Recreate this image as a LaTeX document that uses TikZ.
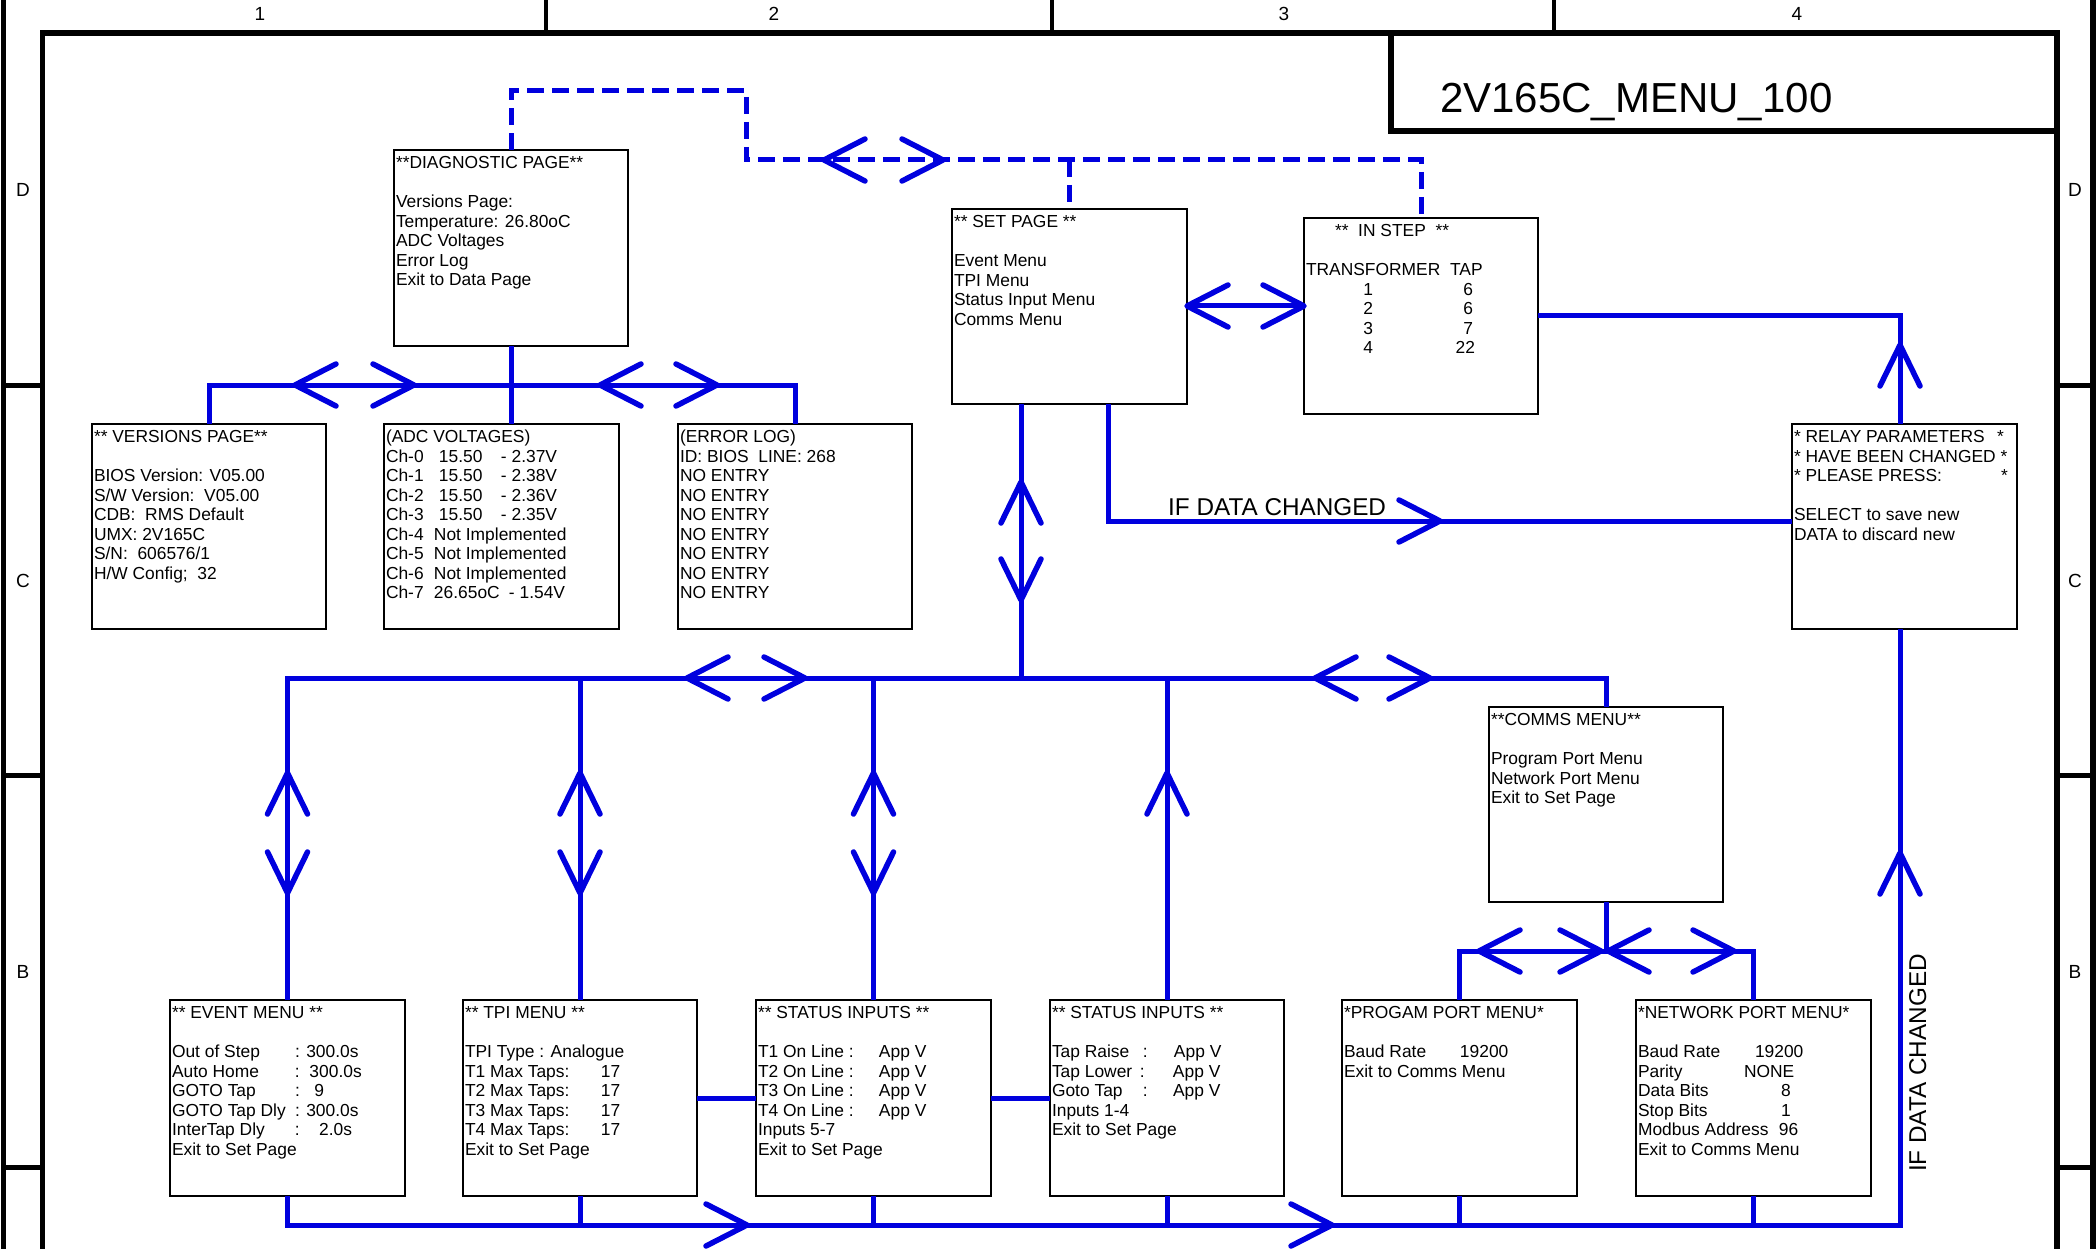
\documentclass[tikz,border=0pt]{standalone}
\usepackage{fontspec}
\setmainfont{Liberation Sans}
\definecolor{wireblue}{RGB}{0,0,222}
\tikzset{
  box/.style={draw=black, line width=2.2, fill=white, anchor=north west, inner sep=0, outer sep=0},
  txt/.style={anchor=north west, inner sep=0, outer sep=0, align=left, font=\fontsize{17.4}{19.5}\selectfont},
  wire/.style={draw=wireblue, line width=5},
  dwire/.style={draw=wireblue, line width=5, dash pattern=on 17pt off 8pt},
  frameline/.style={draw=black, line width=5.5},
  lbl/.style={anchor=base, inner sep=0, font=\fontsize{19}{22}\selectfont},
  chev/.style={draw=wireblue, line width=5.5, line cap=round, line join=round},
  chevL/.pic={\draw[chev] (41,-21) -- (0,0) -- (41,21);},
  chevR/.pic={\draw[chev] (-41,-21) -- (0,0) -- (-41,21);},
  chevU/.pic={\draw[chev] (-20,41) -- (0,0) -- (20,41);},
  chevD/.pic={\draw[chev] (-20,-41) -- (0,0) -- (20,-41);},
}
\begin{document}
\begin{tikzpicture}[x=1pt,y=-1pt]
\useasboundingbox (0,0) rectangle (2096,1249);
\clip (0,0) rectangle (2096,1249);
% frame
\draw[frameline] (3.5,0) -- (3.5,1260);
\draw[frameline] (2093,0) -- (2093,1260);
\draw[frameline] (42.5,1260) -- (42.5,33) -- (2057,33) -- (2057,1260);
\foreach \cx in {546,1052,1554} \draw[line width=4.5] (\cx,0) -- (\cx,33);
\foreach \ry in {385,775,1167} {
  \draw[line width=5] (3.5,\ry) -- (42.5,\ry);
  \draw[line width=5] (2057,\ry) -- (2093,\ry);
}
\node[lbl] (c1) at (260,20.5) {1};
\node[lbl] (c2) at (774,20.5) {2};
\node[lbl] (c3) at (1284,20.5) {3};
\node[lbl] (c4) at (1797,20.5) {4};
\node[lbl] (rD) at (23,197) {D};
\node[lbl] (rC) at (23,587) {C};
\node[lbl] (rB) at (23,978) {B};
\node[lbl] (rD2) at (2075,197) {D};
\node[lbl] (rC2) at (2075,587) {C};
\node[lbl] (rB2) at (2075,978) {B};
\draw[frameline] (1391,33) -- (1391,131) -- (2057,131);
\node[anchor=base west, inner sep=0, font=\fontsize{42}{50}\selectfont] (title) at (1440,113) {2V165C\_MENU\_100};

% boxes
\node[box, minimum width=234, minimum height=196] (diag) at (394,150) {};
\node[box, minimum width=235, minimum height=195] (setp) at (952,209) {};
\node[box, minimum width=234, minimum height=196] (instep) at (1304,218) {};
\node[box, minimum width=234, minimum height=205] (vers) at (92,424) {};
\node[box, minimum width=235, minimum height=205] (adc) at (384,424) {};
\node[box, minimum width=234, minimum height=205] (err) at (678,424) {};
\node[box, minimum width=225, minimum height=205] (relay) at (1792,424) {};
\node[box, minimum width=234, minimum height=195] (comms) at (1489,707) {};
\node[box, minimum width=235, minimum height=196] (event) at (170,1000) {};
\node[box, minimum width=234, minimum height=196] (tpi) at (463,1000) {};
\node[box, minimum width=235, minimum height=196] (stat1) at (756,1000) {};
\node[box, minimum width=234, minimum height=196] (stat2) at (1050,1000) {};
\node[box, minimum width=235, minimum height=196] (prog) at (1342,1000) {};
\node[box, minimum width=235, minimum height=196] (net) at (1636,1000) {};

% texts
\node[txt] (diagT) at (396,155) {\strut**DIAGNOSTIC PAGE**\\ ~\\ Versions Page:\\ Temperature: 26.80oC\\ ADC Voltages\\ Error Log\\ Exit to Data Page};
\node[txt] (setpT) at (954,214) {\strut** SET PAGE **\\ ~\\ Event Menu\\ TPI Menu\\ Status Input Menu\\ Comms Menu};
\node[txt] (instepT) at (1306,223) {\strut\hspace*{29pt}**\ \ IN STEP\ \ **\\ ~\\ TRANSFORMER\ \ TAP\\
 \makebox[67pt][r]{1}\makebox[100pt][r]{6}\\
 \makebox[67pt][r]{2}\makebox[100pt][r]{6}\\
 \makebox[67pt][r]{3}\makebox[100pt][r]{7}\\
 \makebox[67pt][r]{4}\makebox[102pt][r]{22}};
\node[txt] (versT) at (94,429) {\strut** VERSIONS PAGE**\\ ~\\ BIOS Version: V05.00\\ S/W Version:\ \ V05.00\\ CDB:\ \ RMS Default\\ UMX: 2V165C\\ S/N:\ \ 606576/1\\ H/W Config;\ \ 32};
\node[txt] (adcT) at (386,429) {\strut(ADC VOLTAGES)\\
 \makebox[53pt][l]{Ch-0}\makebox[62pt][l]{15.50}- 2.37V\\
 \makebox[53pt][l]{Ch-1}\makebox[62pt][l]{15.50}- 2.38V\\
 \makebox[53pt][l]{Ch-2}\makebox[62pt][l]{15.50}- 2.36V\\
 \makebox[53pt][l]{Ch-3}\makebox[62pt][l]{15.50}- 2.35V\\
 \makebox[48pt][l]{Ch-4}Not Implemented\\
 \makebox[48pt][l]{Ch-5}Not Implemented\\
 \makebox[48pt][l]{Ch-6}Not Implemented\\
 \makebox[48pt][l]{Ch-7}\makebox[75pt][l]{26.65oC}- 1.54V};
\node[txt] (errT) at (680,429) {\strut(ERROR LOG)\\ ID: BIOS\ \ LINE: 268\\ NO ENTRY\\ NO ENTRY\\ NO ENTRY\\ NO ENTRY\\ NO ENTRY\\ NO ENTRY\\ NO ENTRY};
\node[txt] (relayT) at (1794,429) {\strut\makebox[203pt][l]{* RELAY PARAMETERS}*\\ * HAVE BEEN CHANGED *\\ \makebox[207pt][l]{* PLEASE PRESS:}*\\ ~\\ SELECT to save new\\ DATA to discard new};
\node[txt] (commsT) at (1491,712) {\strut**COMMS MENU**\\ ~\\ Program Port Menu\\ Network Port Menu\\ Exit to Set Page};
\node[txt] (eventT) at (172,1005) {\strut** EVENT MENU **\\ ~\\
 \makebox[123pt][l]{Out of Step}: 300.0s\\
 \makebox[123pt][l]{Auto Home}:\ \ 300.0s\\
 \makebox[123pt][l]{GOTO Tap}:\ \ \ 9\\
 \makebox[123pt][l]{GOTO Tap Dly}: 300.0s\\
 \makebox[123pt][l]{InterTap Dly}:\ \ \ \ 2.0s\\
 Exit to Set Page};
\node[txt] (tpiT) at (465,1005) {\strut** TPI MENU **\\ ~\\ TPI Type : Analogue\\
 \makebox[136pt][l]{T1 Max Taps:}17\\
 \makebox[136pt][l]{T2 Max Taps:}17\\
 \makebox[136pt][l]{T3 Max Taps:}17\\
 \makebox[136pt][l]{T4 Max Taps:}17\\
 Exit to Set Page};
\node[txt] (stat1T) at (758,1005) {\strut** STATUS INPUTS **\\ ~\\
 \makebox[121pt][l]{T1 On Line :}App V\\
 \makebox[121pt][l]{T2 On Line :}App V\\
 \makebox[121pt][l]{T3 On Line :}App V\\
 \makebox[121pt][l]{T4 On Line :}App V\\
 Inputs 5-7\\ Exit to Set Page};
\node[txt] (stat2T) at (1052,1005) {\strut** STATUS INPUTS **\\ ~\\
 \makebox[91pt][l]{Tap Raise}\makebox[31pt][l]{:}App V\\
 \makebox[88pt][l]{Tap Lower}\makebox[33pt][l]{:}App V\\
 \makebox[91pt][l]{Goto Tap}\makebox[30pt][l]{:}App V\\
 Inputs 1-4\\ Exit to Set Page};
\node[txt] (progT) at (1344,1005) {\strut*PROGAM PORT MENU*\\ ~\\
 \makebox[116pt][l]{Baud Rate}19200\\ Exit to Comms Menu};
\node[txt] (netT) at (1638,1005) {\strut*NETWORK PORT MENU*\\ ~\\
 \makebox[117pt][l]{Baud Rate}19200\\
 \makebox[106pt][l]{Parity}NONE\\
 \makebox[143pt][l]{Data Bits}8\\
 \makebox[143pt][l]{Stop Bits}1\\
 \makebox[141pt][l]{Modbus Address}96\\
 Exit to Comms Menu};

% dashed links
\draw[dwire] (diag.north) -- (diag.north |- 0,91) -- (746,91) -- (746,160) -- (instep.north |- 0,160) -- (instep.north);
\draw[dwire] (setp.north |- 0,160) -- (setp.north);
\pic at (824,160) {chevL};
\pic at (943,160) {chevR};

% top bus
\draw[wire] (diag.south) -- (diag.south |- adc.north);
\draw[wire] (vers.north) -- (vers.north |- 0,385) -| (err.north);
\pic at (295,385) {chevL};
\pic at (414,385) {chevR};
\pic at (600,385) {chevL};
\pic at (717,385) {chevR};

% set page <-> in step
\draw[wire] (setp.east |- 0,306) -- (instep.west |- 0,306);
\pic at (1187,306) {chevL};
\pic at (1304,306) {chevR};

% in step -> relay
\draw[wire] (instep.east |- 0,316) -| (relay.north -| 1900,0);
\pic at (1900,345) {chevU};

% if data changed
\draw[wire] (setp.south -| 1108,0) |- (relay.west |- 0,521);
\pic at (1440,521) {chevR};
\node[anchor=base west, inner sep=0, font=\fontsize{24.3}{28}\selectfont] (hlabel) at (1168,515) {IF DATA CHANGED};

% set page -> main bus
\draw[wire] (setp.south -| 1021,0) -- (1021,678);
\pic at (1021,482) {chevU};
\pic at (1021,600) {chevD};

% main bus
\draw[wire] (event.north) -- (event.north |- 0,678) -- (comms.north |- 0,678) -- (comms.north);
\draw[wire] (tpi.north) -- (tpi.north |- 0,678);
\draw[wire] (stat1.north) -- (stat1.north |- 0,678);
\draw[wire] (stat2.north) -- (stat2.north |- 0,678);
\pic at (687,678) {chevL};
\pic at (805,678) {chevR};
\pic at (1315,678) {chevL};
\pic at (1430,678) {chevR};
\foreach \n in {event,tpi,stat1} {
  \pic at (\n.north |- 0,773) {chevU};
  \pic at (\n.north |- 0,893) {chevD};
}
\pic at (stat2.north |- 0,773) {chevU};

% comms sub bus
\draw[wire] (comms.south) -- (comms.south |- 0,951);
\draw[wire] (prog.north) |- (net.north |- 0,951) -- (net.north);
\pic at (1479,951) {chevL};
\pic at (1601,951) {chevR};
\pic at (1608,951) {chevL};
\pic at (1734,951) {chevR};

% side links
\draw[wire] (tpi.east |- 0,1098) -- (stat1.west |- 0,1098);
\draw[wire] (stat1.east |- 0,1098) -- (stat2.west |- 0,1098);

% bottom bus
\draw[wire] (event.south) |- (1900,1225) -- (relay.south -| 1900,0);
\foreach \n in {tpi,stat1,stat2,prog,net} \draw[wire] (\n.south) -- (\n.south |- 0,1225);
\pic at (747,1225) {chevR};
\pic at (1332,1225) {chevR};
\pic at (1900,853) {chevU};
\node[rotate=90, anchor=base, inner sep=0, font=\fontsize{24.3}{28}\selectfont] (vlabel) at (1926,1063) {IF DATA CHANGED};
\end{tikzpicture}
\end{document}
